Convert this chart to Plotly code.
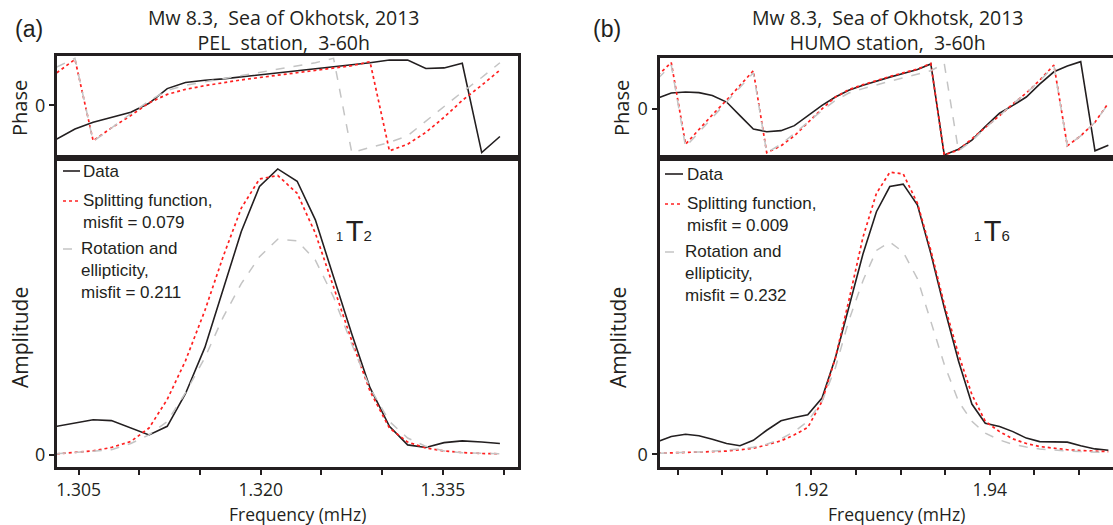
import plotly.graph_objects as go

# ---------------- data ----------------
# (a) PEL station, mode 1T2
left_freq = [1.3032, 1.3047, 1.3062, 1.3077, 1.3093, 1.3108, 1.3123, 1.3138, 1.3154,
             1.3169, 1.3184, 1.3199, 1.3214, 1.3230, 1.3245, 1.3260, 1.3275, 1.3290,
             1.3306, 1.3321, 1.3336, 1.3351, 1.3366, 1.3382, 1.3397]
left_amp_data = [0.100, 0.112, 0.123, 0.120, 0.095, 0.070, 0.100, 0.214, 0.376, 0.575,
                 0.781, 0.939, 1.000, 0.957, 0.822, 0.622, 0.423, 0.235, 0.100, 0.035,
                 0.026, 0.043, 0.049, 0.045, 0.040]
left_amp_split = [0.004, 0.008, 0.014, 0.026, 0.047, 0.094, 0.194, 0.329, 0.505, 0.693,
                  0.863, 0.965, 0.977, 0.915, 0.775, 0.587, 0.399, 0.223, 0.094, 0.045,
                  0.024, 0.014, 0.008, 0.005, 0.004]
left_amp_rot = [0.004, 0.008, 0.012, 0.018, 0.040, 0.070, 0.117, 0.217, 0.340, 0.481,
                0.599, 0.693, 0.754, 0.749, 0.681, 0.552, 0.387, 0.235, 0.117, 0.059,
                0.030, 0.014, 0.008, 0.005, 0.004]
left_ph_data = [-2.28, -1.59, -1.14, -0.80, -0.46, 0.15, 1.14, 1.55, 1.71, 1.80, 1.93,
                2.07, 2.21, 2.34, 2.48, 2.62, 2.75, 2.89, 3.07, 3.07, 2.50, 2.54, 2.85,
                -3.19, -2.10]
left_ph_split = [2.21, 3.12, -2.39, -1.52, -0.68, 0.18, 0.75, 1.09, 1.34, 1.55, 1.73,
                 1.89, 2.05, 2.21, 2.34, 2.50, 2.69, 2.96, -3.07, -2.62, -1.82, -0.80,
                 0.34, 1.37, 2.39]
left_ph_rot = [2.60, 3.19, -2.44, -1.52, -0.55, 0.30, 1.02, 1.37, 1.59, 1.82, 2.05,
               2.23, 2.44, 2.66, 2.89, 3.19, -3.19, -2.84, -2.50, -2.05, -1.07, -0.09,
               0.91, 1.89, 2.89]

# (b) HUMO station, mode 1T6
right_freq = [1.9028, 1.9043, 1.9059, 1.9074, 1.9089, 1.9105, 1.9120, 1.9135, 1.9150,
              1.9166, 1.9181, 1.9196, 1.9212, 1.9227, 1.9242, 1.9258, 1.9273, 1.9288,
              1.9303, 1.9319, 1.9334, 1.9349, 1.9365, 1.9380, 1.9395, 1.9411, 1.9426,
              1.9441, 1.9456, 1.9472, 1.9487, 1.9502, 1.9518, 1.9533]
right_amp_data = [0.047, 0.066, 0.074, 0.069, 0.056, 0.040, 0.032, 0.052, 0.089, 0.124,
                  0.136, 0.146, 0.208, 0.357, 0.543, 0.742, 0.897, 0.990, 0.999, 0.922,
                  0.742, 0.543, 0.345, 0.186, 0.115, 0.103, 0.084, 0.060, 0.047, 0.047,
                  0.045, 0.032, 0.020, 0.015]
right_amp_split = [0.004, 0.005, 0.006, 0.007, 0.010, 0.012, 0.016, 0.022, 0.035, 0.050,
                   0.072, 0.099, 0.196, 0.357, 0.568, 0.804, 0.965, 1.043, 1.037, 0.928,
                   0.754, 0.556, 0.370, 0.221, 0.122, 0.084, 0.057, 0.040, 0.029, 0.022,
                   0.017, 0.014, 0.011, 0.010]
right_amp_rot = [0.004, 0.005, 0.006, 0.009, 0.011, 0.015, 0.020, 0.026, 0.037, 0.057,
                 0.084, 0.122, 0.196, 0.320, 0.494, 0.643, 0.754, 0.785, 0.748, 0.649,
                 0.494, 0.333, 0.196, 0.122, 0.078, 0.053, 0.037, 0.027, 0.020, 0.015,
                 0.012, 0.010, 0.009, 0.007]
right_ph_data = [0.73, 1.07, 1.14, 1.10, 0.91, 0.46, -0.46, -1.37, -1.55, -1.48, -1.14,
                 -0.46, 0.23, 0.80, 1.26, 1.60, 1.89, 2.15, 2.40, 2.67, 3.04, -3.13,
                 -2.74, -2.12, -1.21, -0.30, 0.23, 0.80, 1.67, 2.51, 2.90, 3.20, -2.85,
                 -2.47]
right_ph_split = [2.28, 3.13, -2.40, -1.39, -0.41, 0.59, 1.58, 2.58, -2.97, -2.51, -1.83,
                  -0.91, 0.00, 0.80, 1.30, 1.64, 1.94, 2.19, 2.44, 2.69, 3.08, -3.13,
                  -2.79, -2.05, -1.30, -0.46, 0.34, 1.07, 1.94, 2.97, -2.51, -1.83,
                  -0.91, 0.39]
right_ph_rot = [2.05, 2.97, -2.58, -1.58, -0.57, 0.43, 1.44, 2.44, -2.97, -2.40, -1.67,
                -0.91, -0.11, 0.57, 1.07, 1.37, 1.64, 1.87, 2.10, 2.33, 2.58, 3.08,
                -2.85, -2.17, -1.30, -0.46, 0.34, 1.07, 1.89, 2.90, -2.51, -1.83,
                -0.91, 0.34]

left_titles = ["Mw 8.3,  Sea of Okhotsk, 2013", "PEL  station,  3-60h"]
right_titles = ["Mw 8.3,  Sea of Okhotsk, 2013", "HUMO station,  3-60h"]
left_misfits = ["0.079", "0.211"]
right_misfits = ["0.009", "0.232"]

# ---------------- styling ----------------
W, H = 1113, 525
INK = "#231f20"
RED = "#ff2020"
GRAY = "#c4c4c4"
MYR = "Open Sans"
HEL = "Liberation Sans"


def px(x):
    return x / W


def py(y):
    return 1 - y / H


fig = go.Figure()

line_styles = [
    dict(color=INK, width=1.6, dash="solid"),
    dict(color=RED, width=1.7, dash="dot"),
    dict(color=GRAY, width=1.5, dash="dash"),
]


def add_series(freq, series, xa, ya):
    for ys, st in zip(series, line_styles):
        fig.add_trace(go.Scatter(x=freq, y=ys, mode="lines", line=st,
                                 xaxis=xa, yaxis=ya, showlegend=False,
                                 hoverinfo="skip"))


add_series(left_freq, [left_ph_data, left_ph_split, left_ph_rot], "x", "y")
add_series(left_freq, [left_amp_data, left_amp_split, left_amp_rot], "x2", "y2")
add_series(right_freq, [right_ph_data, right_ph_split, right_ph_rot], "x3", "y3")
add_series(right_freq, [right_amp_data, right_amp_split, right_amp_rot], "x4", "y4")

# panel geometry (pixels)
L_X0, L_X1 = 57, 518
R_X0, R_X1 = 659.5, 1113
PH_Y0_L, PH_Y0_R, SEP, AMP_Y1 = 55.5, 57.5, 157.5, 466.5

left_range = [1.30322, 1.34119]
right_range = [1.90298, 1.95382]

tickfont = dict(family=MYR, size=18, color=INK)
xtickfont = dict(family=MYR, size=17.5, color=INK)
common_x = dict(showgrid=False, zeroline=False, showline=True, linewidth=3,
                linecolor=INK, mirror=True)
common_y = dict(showgrid=False, zeroline=False, showline=True, linewidth=3,
                linecolor=INK, tickvals=[0], ticktext=["0"], ticks="outside",
                ticklen=5, tickwidth=1.5, tickcolor=INK, tickfont=tickfont)

fig.update_layout(
    width=W, height=H,
    margin=dict(l=0, r=0, t=0, b=0),
    paper_bgcolor="white", plot_bgcolor="white",
    showlegend=False,
    xaxis=dict(domain=[px(L_X0), px(L_X1)], range=left_range, anchor="y",
               showticklabels=False, ticks="", **common_x),
    yaxis=dict(domain=[py(SEP), py(PH_Y0_L)], range=[-3.52, 3.38], anchor="x",
               mirror=True, **common_y),
    xaxis2=dict(domain=[px(L_X0), px(L_X1)], range=left_range, anchor="y2",
                tickmode="linear", tick0=1.305, dtick=0.015, tickformat=".3f",
                ticks="outside", ticklen=5, tickwidth=1.5, tickcolor=INK,
                tickfont=xtickfont, ticklabelstandoff=0,
                minor=dict(tick0=1.305, dtick=0.005, ticks="outside", ticklen=5,
                           tickwidth=1.5, tickcolor=INK, showgrid=False),
                **common_x),
    yaxis2=dict(domain=[py(AMP_Y1), py(SEP)], range=[-0.0405, 1.040], anchor="x2",
                mirror=True, **common_y),
    xaxis3=dict(domain=[px(R_X0), px(R_X1)], range=right_range, anchor="y3",
                showticklabels=False, ticks="", **common_x),
    yaxis3=dict(domain=[py(SEP), py(PH_Y0_R)], range=[-3.30, 3.48], anchor="x3",
                mirror=False, **common_y),
    xaxis4=dict(domain=[px(R_X0), px(R_X1)], range=right_range, anchor="y4",
                tickmode="linear", tick0=1.92, dtick=0.02, tickformat=".2f",
                ticks="outside", ticklen=5, tickwidth=1.5, tickcolor=INK,
                tickfont=xtickfont, ticklabelstandoff=0,
                minor=dict(tick0=1.92, dtick=0.005, ticks="outside", ticklen=5,
                           tickwidth=1.5, tickcolor=INK, showgrid=False),
                **common_x),
    yaxis4=dict(domain=[py(AMP_Y1), py(SEP)], range=[-0.045, 1.0975], anchor="x4",
                mirror=False, **common_y),
)

ann = []


def text(x, y, s, size, family=MYR, xanchor="center", yanchor="middle", angle=0,
         align="left"):
    ann.append(dict(x=px(x), y=py(y), xref="paper", yref="paper", text=s,
                    showarrow=False, xanchor=xanchor, yanchor=yanchor,
                    textangle=angle, align=align, borderpad=0,
                    font=dict(family=family, size=size, color=INK)))


# panel letters
text(29, 29, "(a)", 23, HEL)
text(607, 29, "(b)", 23, HEL)
# titles
text(284, 29.5, "<br>".join(left_titles), 19.5, align="center")
text(888, 29.5, "<br>".join(right_titles), 19.5, align="center")
# axis titles
text(19, 108, "Phase", 20, angle=-90)
text(20, 338, "Amplitude", 21, angle=-90)
text(621, 108, "Phase", 20, angle=-90)
text(618, 338, "Amplitude", 21, angle=-90)
text(297, 513.5, "Frequency (mHz)", 17.5)
text(896, 513.5, "Frequency (mHz)", 17.5)
# mode labels
text(335, 231,
     "<span style='font-size:13px'>1&#8201;</span>T<span style='font-size:15px'>2</span>",
     29, HEL, xanchor="left")
text(973, 231,
     "<span style='font-size:13px'>1&#8201;</span>T<span style='font-size:15px'>6</span>",
     29, HEL, xanchor="left")

# legends (text + short key lines)
shapes = []


def legend(x_key0, x_key1, x_text, rows, misfits):
    (y_d, y_s, y_r) = rows
    keys = [(y_d, line_styles[0]), (y_s, line_styles[1]), (y_r, line_styles[2])]
    for yk, st in keys:
        shapes.append(dict(type="line", xref="paper", yref="paper",
                           x0=px(x_key0), x1=px(x_key1), y0=py(yk), y1=py(yk),
                           line=dict(color=st["color"], width=st["width"],
                                     dash=st["dash"])))
    text(x_text, y_d, "Data", 17, HEL, xanchor="left")
    text(x_text, y_s - 11, "Splitting function,<br>misfit = " + misfits[0], 17, HEL,
         xanchor="left", yanchor="top")
    text(x_text - 2, y_r - 11,
         "Rotation and<br>ellipticity,<br>misfit = " + misfits[1], 17, HEL,
         xanchor="left", yanchor="top")


legend(63, 80, 82, (171, 201, 249), left_misfits)
legend(665, 683, 686, (174, 204, 252), right_misfits)

fig.update_layout(annotations=ann, shapes=shapes)
fig.write_html("out.html", config={"displayModeBar": False},
               post_script="document.body.style.margin='0';")
